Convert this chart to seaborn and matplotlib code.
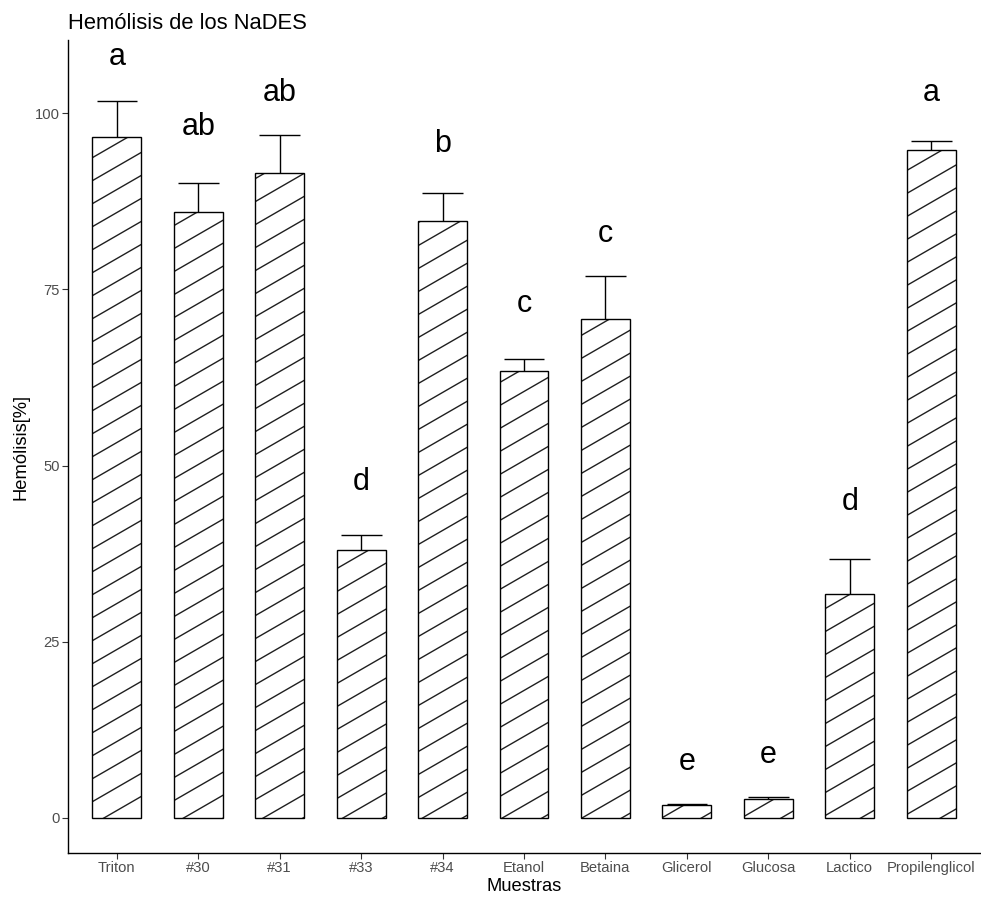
import numpy as np
import pandas as pd
import matplotlib
matplotlib.use("Agg")
import matplotlib.pyplot as plt
import seaborn as sns
from matplotlib.collections import LineCollection

# Hemolysis per sample: mean, standard deviation and significance group
muestras = ["Triton", "#30", "#31", "#33", "#34", "Etanol", "Betaina",
            "Glicerol", "Glucosa", "Lactico", "Propilenglicol"]
hemolisis = [96.7, 86.0, 91.5, 38.0, 84.7, 63.4, 70.8, 1.8, 2.6, 31.8, 94.8]
desviacion = [5.0, 4.1, 5.4, 2.1, 4.0, 1.7, 6.1, 0.1, 0.4, 4.9, 1.2]
grupos = ["a", "ab", "ab", "d", "b", "c", "c", "e", "e", "d", "a"]
altura_letra = [106.8, 96.9, 101.8, 46.5, 94.5, 71.8, 81.7, 6.8, 7.8, 43.7, 101.8]

df = pd.DataFrame({"Muestras": muestras, "Hemolisis": hemolisis})

sns.set_theme(style="white")
plt.rcParams["font.family"] = ["Liberation Sans", "DejaVu Sans"]

fig = plt.figure(figsize=(9.81, 9.01), dpi=100)
ax = fig.add_axes([68 / 981, 48 / 901, 912 / 981, 813 / 901])

sns.barplot(data=df, x="Muestras", y="Hemolisis", order=muestras,
            color="white", edgecolor="black", linewidth=1.0,
            width=0.6, errorbar=None, ax=ax, zorder=2)

ax.set_xlim(-0.6, len(muestras) - 0.4)
ax.set_ylim(-5.0, 110.4)

# diagonal stripe fill (30 degrees) clipped to each bar
spacing = 23.0
slope = np.tan(np.radians(30))
inv = ax.transData.inverted()
for patch in list(ax.patches):
    bb = patch.get_window_extent(renderer=fig.canvas.get_renderer())
    x0, x1, y0, y1 = bb.x0, bb.x1, bb.y0, bb.y1
    w = x1 - x0
    c_min = np.floor((y0 - slope * x1) / spacing) * spacing
    c_max = y1 - slope * x0
    segs = []
    c = c_min
    while c <= c_max + spacing:
        p0 = inv.transform((x0 - 2, slope * (x0 - 2) + c))
        p1 = inv.transform((x1 + 2, slope * (x1 + 2) + c))
        segs.append([p0, p1])
        c += spacing
    lc = LineCollection(segs, colors="#1f1f1f", linewidths=1.0, zorder=2.5)
    ax.add_collection(lc)
    lc.set_clip_path(patch)

# outlines on top of stripes
for patch in list(ax.patches):
    patch.set_zorder(3)
    patch.set_facecolor("none")

# upper error bars
xpos = np.arange(len(muestras))
tops = np.array(hemolisis) + np.array(desviacion)
ax.vlines(xpos, hemolisis, tops, colors="black", linewidth=1.0, zorder=1.5)
ax.hlines(tops, xpos - 0.25, xpos + 0.25, colors="black", linewidth=1.0, zorder=1.5)

# significance letters
for x, y, g in zip(xpos, altura_letra, grupos):
    ax.text(x, y, g, ha="center", va="baseline", fontsize=22, color="black")

ax.set_yticks([0, 25, 50, 75, 100])
ax.tick_params(axis="both", which="both", length=4, width=0.8, color="#333333",
               labelsize=10.6, labelcolor="#4D4D4D", pad=2, bottom=True, left=True)
ax.set_xlabel("Muestras", fontsize=13.2, color="black", labelpad=2)
ax.set_ylabel("Hemólisis[%]", fontsize=13.2, color="black", labelpad=4)
ax.set_title("Hemólisis de los NaDES", loc="left", fontsize=15.8, color="black", pad=8)

for side in ["top", "right"]:
    ax.spines[side].set_visible(False)
for side in ["left", "bottom"]:
    ax.spines[side].set_color("black")
    ax.spines[side].set_linewidth(1.0)

fig.savefig("out.png", dpi=100)
